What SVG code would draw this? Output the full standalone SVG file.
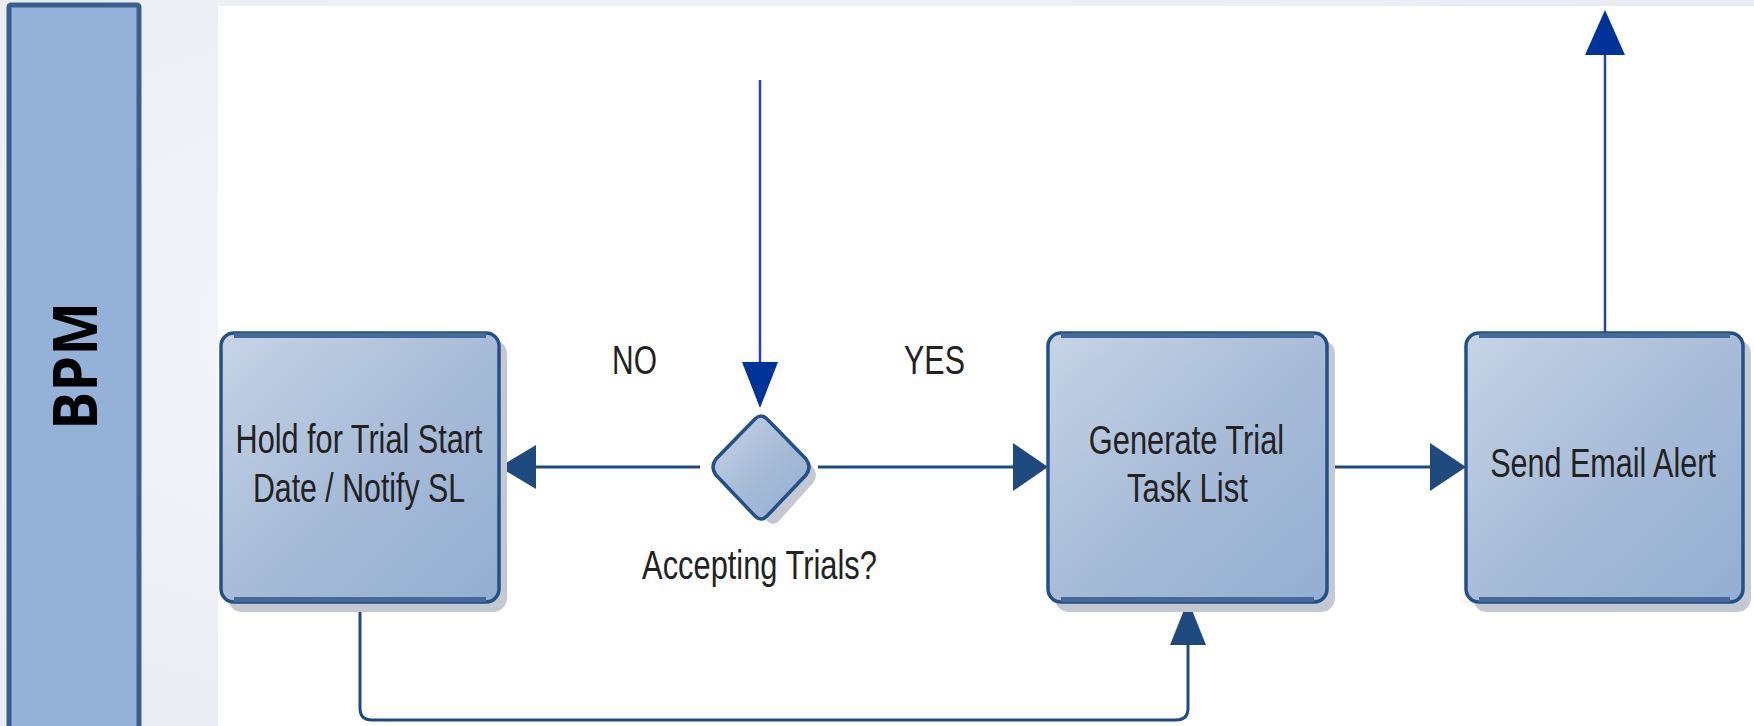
<svg xmlns="http://www.w3.org/2000/svg" width="1754" height="726" viewBox="0 0 1754 726">
  <defs>
    <linearGradient id="boxFill" x1="0" y1="0" x2="1" y2="1">
      <stop offset="0" stop-color="#c6d4e5"/>
      <stop offset="0.55" stop-color="#a5bad7"/>
      <stop offset="1" stop-color="#93aed2"/>
    </linearGradient>
    <radialGradient id="haze" cx="0.4" cy="0.45" r="0.7">
      <stop offset="0" stop-color="#f6f8fb"/>
      <stop offset="1" stop-color="#e8ecf2"/>
    </radialGradient>
  </defs>
  <style>
    .shadow { fill: #c3c8d1; }
    .box { fill: url(#boxFill); stroke: #24508a; stroke-width: 3.5; }
    .band { stroke: #46699a; stroke-width: 5; fill: none; }
    .label { font-family: "Liberation Sans", Arial, sans-serif; font-size: 40px; fill: #222; text-anchor: middle; }
    .flow { stroke: #1f4a80; stroke-width: 3; fill: none; }
    .flowHead { fill: #1f4a80; }
    .ext { stroke: #2446a6; stroke-width: 2.5; fill: none; }
    .extHead { fill: #003399; }
  </style>

  <!-- page background -->
  <rect x="0" y="0" width="1754" height="726" fill="url(#haze)"/>
  <rect x="218" y="6" width="1536" height="720" fill="#ffffff"/>

  <!-- swimlane header -->
  <g id="lane-bpm">
    <rect x="9" y="5" width="130" height="730" fill="#94b2d7" stroke="#3a5f8f" stroke-width="5" rx="2"/>
    <text transform="translate(97,366) rotate(-90)" text-anchor="middle" font-family="'Open Sans', 'Liberation Sans', sans-serif" font-weight="bold" font-size="61" fill="#000" textLength="128" lengthAdjust="spacingAndGlyphs">BPM</text>
  </g>

  <!-- connectors -->
  <g id="connectors">
    <!-- incoming flow from above into the decision -->
    <line class="ext" x1="760" y1="80" x2="760" y2="364"/>
    <polygon class="extHead" points="742,362 778,362 760,408"/>
    <!-- NO branch -->
    <line class="flow" x1="700" y1="467" x2="534" y2="467"/>
    <polygon class="flowHead" points="536,445 536,489 499,467"/>
    <!-- YES branch -->
    <line class="flow" x1="818" y1="467" x2="1015" y2="467"/>
    <polygon class="flowHead" points="1013,443 1013,491 1048,467"/>
    <!-- task list to email alert -->
    <line class="flow" x1="1327" y1="467" x2="1432" y2="467"/>
    <polygon class="flowHead" points="1430,443 1430,491 1466,467"/>
    <!-- hold loop back to task list -->
    <path class="flow" d="M360,603 V708 Q360,720 372,720 H1176 Q1188,720 1188,708 V643"/>
    <polygon class="flowHead" points="1170,645 1206,645 1188,600"/>
    <!-- outgoing flow upward -->
    <line class="ext" x1="1605" y1="333" x2="1605" y2="52"/>
    <polygon class="extHead" points="1585,55 1625,55 1605,10"/>
  </g>

  <!-- Hold for Trial Start Date / Notify SL -->
  <g id="node-hold">
    <rect class="shadow" x="228" y="340" width="279" height="272" rx="14"/>
    <rect class="box" x="221" y="333" width="278" height="269" rx="13"/>
    <line class="band" x1="234" y1="335.5" x2="486" y2="335.5"/>
    <line class="band" x1="234" y1="599.5" x2="486" y2="599.5"/>
    <text class="label" transform="translate(359,453) scale(0.76,1)" textLength="325" lengthAdjust="spacingAndGlyphs">Hold for Trial Start</text>
    <text class="label" transform="translate(359,502) scale(0.76,1)" textLength="279" lengthAdjust="spacingAndGlyphs">Date / Notify SL</text>
  </g>

  <!-- decision -->
  <g id="node-decision">
    <path class="shadow" d="M767,421 Q773,415 779,421 L813,459 Q819,467 813,475 L779,513 Q773,519 767,513 L733,475 Q727,467 733,459 Z" transform="translate(0,8)"/>
    <path class="box" d="M755,419 Q761,413 767,419 L806,459 Q812,467 806,475 L767,516 Q761,522 755,516 L716,475 Q710,467 716,459 Z"/>
    <text class="label" font-size="39" transform="translate(759.5,579) scale(0.76,1)" textLength="309" lengthAdjust="spacingAndGlyphs">Accepting Trials?</text>
  </g>

  <!-- branch labels -->
  <g id="label-no">
    <text class="label" transform="translate(634.5,374) scale(0.76,1)" textLength="59" lengthAdjust="spacingAndGlyphs">NO</text>
  </g>
  <g id="label-yes">
    <text class="label" transform="translate(934.5,374) scale(0.76,1)" textLength="80" lengthAdjust="spacingAndGlyphs">YES</text>
  </g>

  <!-- Generate Trial Task List -->
  <g id="node-generate">
    <rect class="shadow" x="1055" y="340" width="280" height="272" rx="14"/>
    <rect class="box" x="1048" y="333" width="279" height="269" rx="13"/>
    <line class="band" x1="1061" y1="335.5" x2="1314" y2="335.5"/>
    <line class="band" x1="1061" y1="599.5" x2="1314" y2="599.5"/>
    <text class="label" transform="translate(1186.5,454) scale(0.76,1)" textLength="257" lengthAdjust="spacingAndGlyphs">Generate Trial</text>
    <text class="label" transform="translate(1187.5,502) scale(0.76,1)" textLength="159" lengthAdjust="spacingAndGlyphs">Task List</text>
  </g>

  <!-- Send Email Alert -->
  <g id="node-send">
    <rect class="shadow" x="1473" y="340" width="278" height="272" rx="14"/>
    <rect class="box" x="1466" y="333" width="277" height="269" rx="13"/>
    <line class="band" x1="1479" y1="335.5" x2="1730" y2="335.5"/>
    <line class="band" x1="1479" y1="599.5" x2="1730" y2="599.5"/>
    <text class="label" transform="translate(1603,477) scale(0.76,1)" textLength="297" lengthAdjust="spacingAndGlyphs">Send Email Alert</text>
  </g>
</svg>
